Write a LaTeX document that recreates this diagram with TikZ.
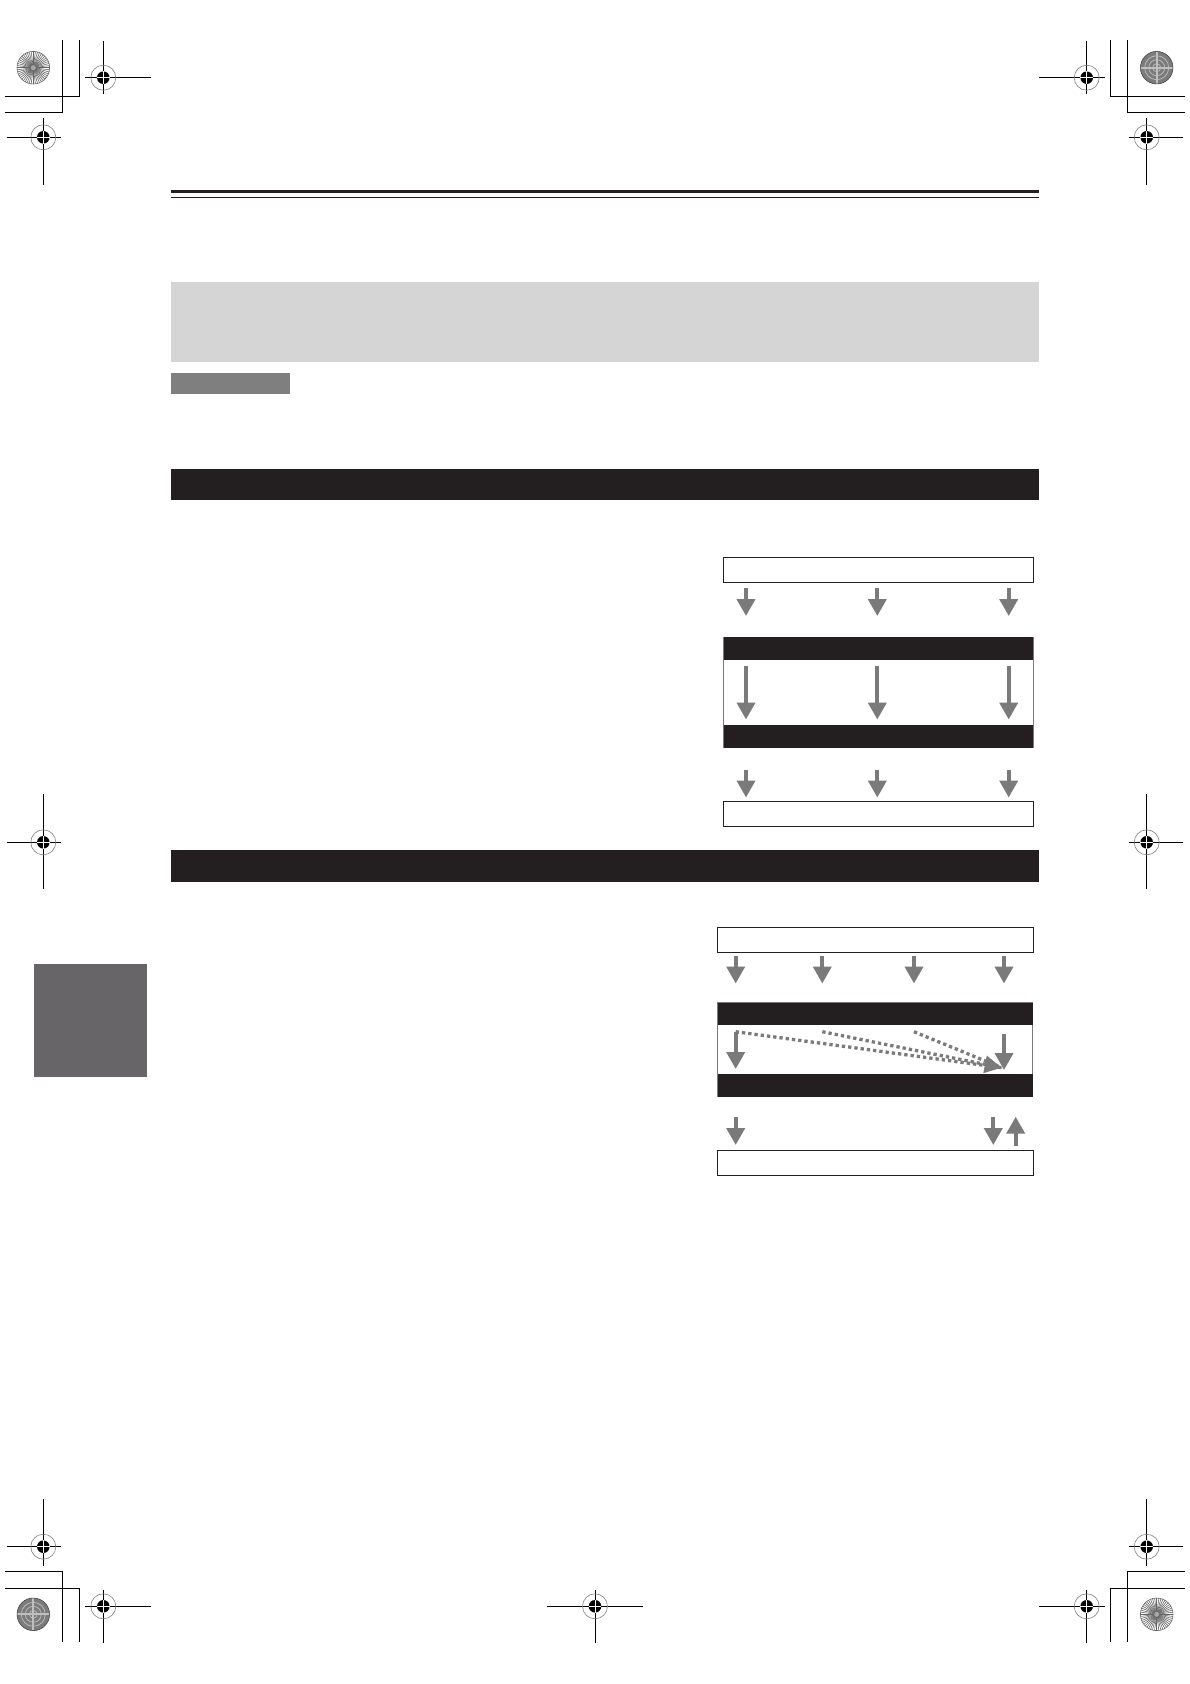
\documentclass[tikz,border=0pt]{standalone}
\usetikzlibrary{arrows.meta}
\definecolor{barblack}{HTML}{231F20}
\definecolor{arrgray}{HTML}{7A7A7A}
\definecolor{lightbox}{HTML}{D5D5D5}
\definecolor{midbox}{HTML}{7F7F7F}
\definecolor{tabgray}{HTML}{676567}
\tikzset{
  cropline/.style={line width=1pt, draw=black},
  garrow/.style={line width=4pt, draw=arrgray, -{Triangle[width=18pt,length=17pt,fill=arrgray]}},
  dotarrow/.style={line width=3.3pt, draw=arrgray, dash pattern=on 3.3pt off 3pt},
  outbox/.style={draw=barblack, line width=1pt, fill=white, minimum height=25pt, inner sep=0pt},
  band/.style={fill=barblack, draw=none, minimum height=23pt, inner sep=0pt},
  regmark/.pic={
    \fill[black] (0,0) circle (6.3);
    \draw[white, line width=0.6pt] (-6.3,0) -- (6.3,0) (0,-6.3) -- (0,6.3);
    \draw[gray, line width=0.6pt] (0,0) circle (12.5);
  },
  lightwheel/.pic={
    \fill[white] (0,0) circle (16.3);
    \foreach \a in {0,7.5,...,352.5} \draw[black!60, line width=0.6pt] (\a:2) -- (\a:16.3);
    \fill[gray!70] (0,0) circle (2.5);
    \draw[black!60, line width=0.6pt] (0,0) circle (16.3);
  },
  darkwheel/.pic={
    \fill[gray!85!black!90] (0,0) circle (16.3);
    \foreach \r in {4,8,12} \draw[gray!55, line width=0.8pt] (0,0) circle (\r);
    \draw[gray!50, line width=2pt] (-16,0) -- (16,0) (0,-16) -- (0,16);
    \draw[gray!45!black, line width=0.5pt] (0,0) circle (16.3);
  }
}
\begin{document}
\begin{tikzpicture}[x=1pt,y=-1pt]
\useasboundingbox (0,0) rectangle (1190,1684);
\fill[white] (0,0) rectangle (1190,1684);

% ---- crop marks (corners) ----
\draw[cropline] (5,112.7) -- (62.3,112.7) -- (62.3,40);
\draw[cropline] (5,96) -- (79.3,96) -- (79.3,40);
\draw[cropline] (1185,112.7) -- (1127.7,112.7) -- (1127.7,40);
\draw[cropline] (1185,96) -- (1110.7,96) -- (1110.7,40);
\draw[cropline] (5,1571.3) -- (62.3,1571.3) -- (62.3,1642);
\draw[cropline] (5,1588) -- (79.3,1588) -- (79.3,1642);
\draw[cropline] (1185,1571.3) -- (1127.7,1571.3) -- (1127.7,1642);
\draw[cropline] (1185,1588) -- (1110.7,1588) -- (1110.7,1642);

% ---- wheels ----
\pic at (33.3,67.7) {lightwheel};
\pic at (1156.7,67.7) {darkwheel};
\pic at (33.3,1614.3) {darkwheel};
\pic at (1156.7,1614.3) {lightwheel};

% ---- registration targets ----
\draw[cropline] (85,77.7) -- (150.7,77.7) (103.3,41) -- (103.3,94.3);
\pic at (103.3,77.7) {regmark};
\draw[cropline] (6.7,137.3) -- (60.7,137.3) (43.3,118.3) -- (43.3,185);
\pic at (43.3,137.3) {regmark};
\draw[cropline] (1039.3,77.7) -- (1105,77.7) (1086.7,41) -- (1086.7,94.3);
\pic at (1086.7,77.7) {regmark};
\draw[cropline] (1129.3,137.3) -- (1183.3,137.3) (1146.7,118.3) -- (1146.7,185);
\pic at (1146.7,137.3) {regmark};
\draw[cropline] (6.7,842.3) -- (60.7,842.3) (43.3,794) -- (43.3,889.3);
\pic at (43.3,842.3) {regmark};
\draw[cropline] (1129.3,842.3) -- (1183.3,842.3) (1146.7,794) -- (1146.7,889.3);
\pic at (1146.7,842.3) {regmark};
\draw[cropline] (6.7,1546.7) -- (60.7,1546.7) (43.3,1499) -- (43.3,1565.7);
\pic at (43.3,1546.7) {regmark};
\draw[cropline] (1129.3,1546.7) -- (1183.3,1546.7) (1146.7,1499) -- (1146.7,1565.7);
\pic at (1146.7,1546.7) {regmark};
\draw[cropline] (85,1606.3) -- (150.7,1606.3) (103.3,1589.7) -- (103.3,1643);
\pic at (103.3,1606.3) {regmark};
\draw[cropline] (1039.3,1606.3) -- (1105,1606.3) (1086.7,1589.7) -- (1086.7,1643);
\pic at (1086.7,1606.3) {regmark};
\draw[cropline] (546.7,1606.3) -- (643.3,1606.3) (595,1589.7) -- (595,1643);
\pic at (595,1606.3) {regmark};

% ---- header rules ----
\fill[barblack] (171,190) rectangle (1038.7,193);
\draw[barblack, line width=1.2pt] (171,197.5) -- (1038.7,197.5);

% ---- boxes & bars ----
\node[fill=lightbox, minimum width=867.7pt, minimum height=80pt, inner sep=0pt, anchor=north west] (intro) at (171,282) {};
\node[fill=midbox, minimum width=119pt, minimum height=21.5pt, inner sep=0pt, anchor=north west] (tag) at (171,372.7) {};
\node[fill=barblack, minimum width=867.7pt, minimum height=31pt, inner sep=0pt, anchor=north west] (sec1) at (171,468.3) {};
\node[fill=barblack, minimum width=867.7pt, minimum height=32pt, inner sep=0pt, anchor=north west] (sec2) at (171,849.5) {};
\node[fill=tabgray, minimum width=112.7pt, minimum height=112.7pt, inner sep=0pt, anchor=north west] (tab) at (34,964) {};

% ---- flowchart 1 ----
\node[outbox, minimum width=309.4pt, anchor=north west] (f1top) at (723.3,556.5) {};
\draw[arrgray, line width=0.8pt] (723.3,637) rectangle (1033,747.7);
\node[band, minimum width=309.7pt, anchor=north west] (f1b1) at (723.3,637) {};
\node[band, minimum width=309.7pt, minimum height=22.7pt, anchor=north west] (f1b2) at (723.3,725) {};
\node[outbox, minimum width=309.4pt, anchor=north west] (f1bot) at (723.3,800.5) {};
\foreach \x [count=\i] in {746,877.3,1008.7}{
  \coordinate (a1s\i) at (\x,588.3); \coordinate (a1e\i) at (\x,616);
  \coordinate (b1s\i) at (\x,666);   \coordinate (b1e\i) at (\x,719.5);
  \coordinate (c1s\i) at (\x,770);   \coordinate (c1e\i) at (\x,797.5);
  \draw[garrow] (a1s\i) -- (a1e\i);
  \draw[garrow] (b1s\i) -- (b1e\i);
  \draw[garrow] (c1s\i) -- (c1e\i);
}

% ---- flowchart 2 ----
\node[outbox, minimum width=315.4pt, anchor=north west] (f2top) at (717.3,926.7) {};
\draw[arrgray, line width=0.8pt] (717.3,1002.3) rectangle (1032.7,1096.7);
\node[band, minimum width=315.4pt, minimum height=22.7pt, anchor=north west] (f2b1) at (717.3,1002.3) {};
\node[band, minimum width=315.4pt, minimum height=22.7pt, anchor=north west] (f2b2) at (717.3,1074) {};
\node[outbox, minimum width=315.4pt, anchor=north west] (f2bot) at (717.3,1149.5) {};
\foreach \x [count=\i] in {735.7,822.3,914,1004}{
  \coordinate (a2s\i) at (\x,956); \coordinate (a2e\i) at (\x,983.5);
  \draw[garrow] (a2s\i) -- (a2e\i);
}
\coordinate (d1) at (735.7,1031.7);
\coordinate (d2) at (822.3,1031.7);
\coordinate (d3) at (914,1031.7);
\coordinate (dt) at (1001.7,1067.7);
\draw[dotarrow] (d1) -- (dt);
\draw[dotarrow] (d3) -- (dt);
\draw[dotarrow, -{Triangle[width=17pt,length=17pt,fill=arrgray]}] (d2) -- (dt);
\coordinate (i1s) at (735.7,1031.7); \coordinate (i1e) at (735.7,1069);
\coordinate (i2s) at (1004,1034);    \coordinate (i2e) at (1004,1070);
\draw[garrow] (i1s) -- (i1e);
\draw[garrow] (i2s) -- (i2e);
\coordinate (o1s) at (735.7,1116.7); \coordinate (o1e) at (735.7,1145);
\coordinate (o2s) at (993.3,1116.7); \coordinate (o2e) at (993.3,1145);
\coordinate (o3s) at (1015.7,1145.7); \coordinate (o3e) at (1015.7,1116.7);
\draw[garrow] (o1s) -- (o1e);
\draw[garrow] (o2s) -- (o2e);
\draw[garrow] (o3s) -- (o3e);
\end{tikzpicture}
\end{document}
